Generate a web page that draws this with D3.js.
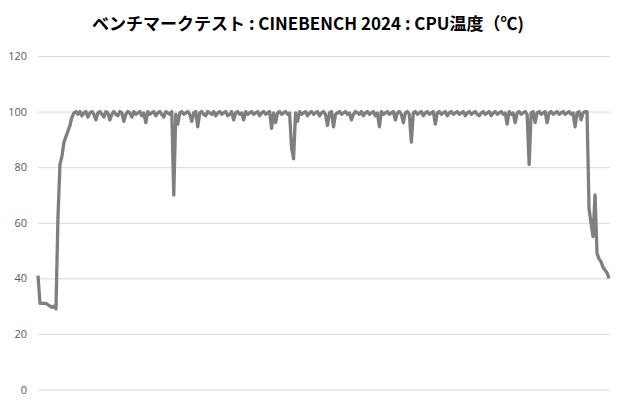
<!DOCTYPE html>
<html>
<head>
<meta charset="utf-8">
<script src="https://cdn.jsdelivr.net/npm/d3@7"></script>
<style>
  body { margin: 0; background: #fff; }
  .title { font-family: "Noto Sans CJK JP", "Noto Sans", sans-serif; font-weight: bold; font-size: 17px; fill: #000; }
  .tick text { font-family: "Open Sans", "Noto Sans", sans-serif; font-size: 11px; fill: #595959; }
  .grid line { stroke: #d9d9d9; stroke-width: 1; }
  .tempLine { fill: none; stroke: #7f7f7f; stroke-width: 3.3; stroke-linejoin: round; }
</style>
</head>
<body>
<div id="chart"></div>
<script>
const titleText = 'ベンチマークテスト : CINEBENCH 2024 : CPU温度（℃)';
const yTicks = [0, 20, 40, 60, 80, 100, 120];

// CPU temperature samples (one every ~2 px)
const warmup = [41, 31, 31, 31, 31, 30.5, 30, 29.5, 30, 29, 62, 81, 84, 89, 91, 93, 95, 98, 99.5, 100];
const run1 = [
  99, 100, 98.5, 99.5, 100, 98, 99.5, 100, 99, 97,
  99.5, 100, 99, 98, 100, 99.5, 97, 99, 100, 99,
  98.5, 100, 99.5, 96.5, 99, 100, 99.5, 98, 100, 99,
  99.5, 100, 98.5, 99.5, 96, 100, 99, 99.5, 100, 98.5,
  99.5, 100, 99, 98, 100, 99.5, 99, 100, 70, 99,
  95.5, 99.5, 100, 99, 99.5, 100, 99, 96.5, 99.5, 100,
  94.5, 99.5, 100, 99, 98.5, 100, 99.5, 99, 100, 98.5,
  99.5, 100, 99, 99.5, 100, 98.5, 99, 100, 97, 99.5,
  100, 99, 99.5, 97, 100, 99, 99.5, 100, 99, 99.5,
  100, 98.5, 99.5, 100, 99, 99.5, 100, 94, 99.5, 96,
  99.5, 100, 99, 99.5, 100, 99, 99.5, 87, 83, 99.5
];
const run2 = [
  96.5, 100, 99, 99.5, 100, 98.5, 99.5, 100, 99, 99.5,
  100, 98.5, 99.5, 100, 99, 95, 99.5, 100, 94.5, 99,
  99.5, 100, 99, 99.5, 100, 99, 99.5, 97, 99, 100,
  99.5, 99, 100, 98.5, 99.5, 100, 99, 99.5, 100, 98.5,
  99.5, 94.5, 100, 99, 99.5, 100, 99, 99.5, 100, 97,
  99.5, 100, 99, 96, 99.5, 100, 99, 89, 99.5, 100,
  99, 99.5, 100, 98.5, 99.5, 100, 99, 99.5, 100, 95.5,
  99.5, 100, 99, 99.5, 100, 98.5, 99.5, 100, 99, 99.5,
  100, 99, 99.5, 100, 98.5, 99.5, 100, 99, 99.5, 100,
  99, 98.5, 99.5, 100, 99, 99.5, 100, 98.5, 99.5, 100,
  99, 99.5, 100, 99, 99.5, 95.5, 100, 99, 99.5, 96,
  99.5, 100, 99, 99.5, 100, 99, 81, 99.5, 100, 96,
  99.5, 100, 99, 99.5, 100, 96, 99.5, 100, 99, 99.5,
  100, 99, 99.5, 100, 99, 99.5, 100, 99, 99.5, 94.5,
  99.5, 100, 97, 99.5, 100, 100
];
const cooldown = [65, 60, 55, 70, 49, 47, 46, 44, 43, 42, 40];

const temps = [...warmup, ...run1, ...run2, ...cooldown];

const width = 620;
const height = 400;
const margin = { top: 56, right: 10, bottom: 10, left: 38 };

const svg = d3.select('#chart').append('svg')
  .attr('width', width)
  .attr('height', height);

svg.append('text')
  .attr('class', 'title')
  .attr('x', 308)
  .attr('y', 30)
  .attr('text-anchor', 'middle')
  .text(titleText);

const x = d3.scaleLinear()
  .domain([0, temps.length - 1])
  .range([margin.left, 609]);

const y = d3.scaleLinear()
  .domain([0, 120])
  .range([389.5, 56]);

const yAxis = d3.axisLeft(y)
  .tickValues(yTicks)
  .tickSize(-(610 - margin.left))
  .tickPadding(11);

svg.append('g')
  .attr('class', 'grid')
  .attr('transform', `translate(${margin.left},0)`)
  .call(yAxis)
  .call(g => g.select('.domain').remove());

const line = d3.line()
  .x((d, i) => x(i))
  .y(d => y(d));

svg.append('path')
  .datum(temps)
  .attr('class', 'tempLine')
  .attr('d', line);
</script>
</body>
</html>
